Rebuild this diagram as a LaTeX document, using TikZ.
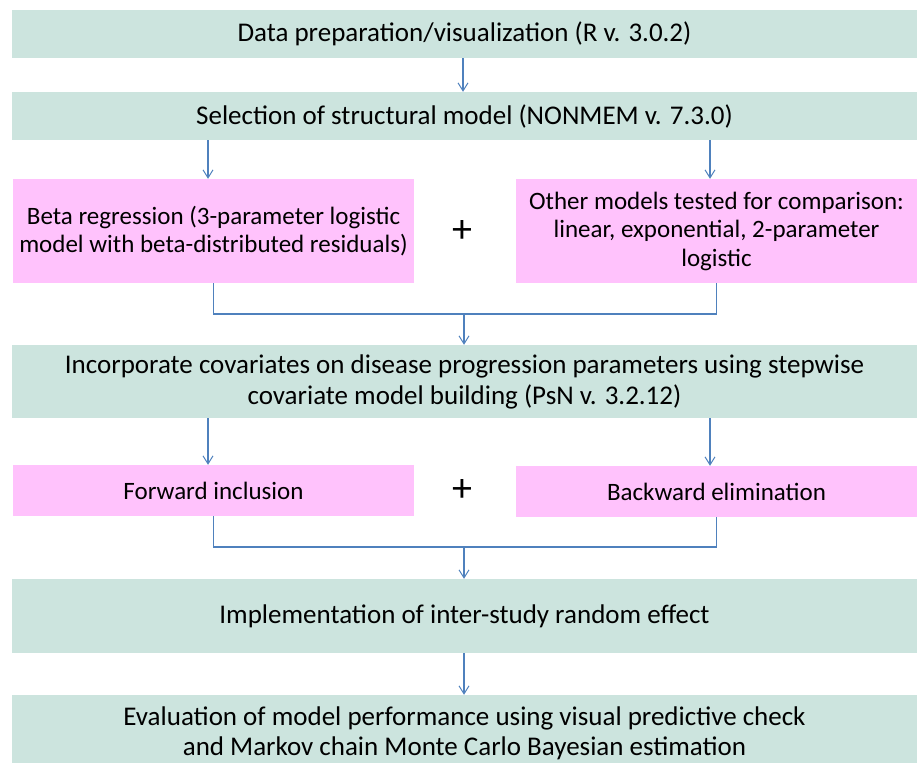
\documentclass[tikz,border=0pt]{standalone}
\usepackage{fontspec}
\setmainfont{Carlito}
\usetikzlibrary{arrows.meta}
\definecolor{teal1}{HTML}{CCE4DE}
\definecolor{pink1}{HTML}{FFC2FC}
\definecolor{arrblue}{HTML}{4F81BD}
\begin{document}
\begin{tikzpicture}[x=1pt,y=-1pt,
  tealbox/.style={rectangle,fill=teal1,draw=none,minimum width=905pt,inner sep=0pt,align=center,font=\fontsize{27}{31}\selectfont},
  pinkbox/.style={rectangle,fill=pink1,draw=none,minimum width=401pt,inner sep=0pt,align=center,font=\fontsize{25}{28.5}\selectfont},
  conn/.style={draw=arrblue,line width=1.1pt},
  arr/.style={conn,-{Straight Barb[length=8pt,width=10pt,line width=1pt]}},
  plus/.style={font=\fontsize{40}{40}\selectfont}]
\useasboundingbox (0,0) rectangle (917,762);
\node[tealbox,minimum height=48pt] (b1) at (464.5,34) {Data preparation/visualization (R v. 3.0.2)};
\node[tealbox,minimum height=48pt] (b2) at (464.5,116) {Selection of structural model (NONMEM v. 7.3.0)};
\node[pinkbox,minimum height=104pt] (pl) at (213.5,231) {Beta regression (3-parameter logistic\\model with beta-distributed residuals)};
\node[pinkbox,minimum height=104pt] (pr) at (716.5,231) {Other models tested for comparison:\\linear, exponential, 2-parameter\\logistic};
\node[plus] (p1) at (462,232) {+};
\node[tealbox,minimum height=73pt] (b3) at (464.5,381.5) {Incorporate covariates on disease progression parameters using stepwise\\covariate model building (PsN v. 3.2.12)};
\node[pinkbox,minimum height=51pt] (fw) at (213.5,490.5) {Forward inclusion};
\node[pinkbox,minimum height=51pt] (bw) at (716.5,491.5) {Backward elimination};
\node[plus] (p2) at (462,490) {+};
\node[tealbox,minimum height=74pt] (b4) at (464.5,616) {Implementation of inter-study random effect};
\node[tealbox,minimum height=76pt,font=\fontsize{27}{30}\selectfont] (b5) at (464.5,733) {Evaluation of model performance using visual predictive check\\and Markov chain Monte Carlo Bayesian estimation};
\coordinate (j1) at (464,314);
\coordinate (j2) at (464,547);
% arrows
\draw[arr] ([xshift=-1.5pt]b1.south) -- ([xshift=-1.5pt]b2.north);
\draw[arr] ([xshift=-5.5pt]pl.north |- b2.south) -- ([xshift=-5.5pt]pl.north);
\draw[arr] ([xshift=-6.5pt]pr.north |- b2.south) -- ([xshift=-6.5pt]pr.north);
\draw[conn] (pl.south) |- (j1) -| (pr.south);
\draw[arr] (j1) -- (b3.north -| j1);
\draw[arr] ([xshift=-5.5pt]fw.north |- b3.south) -- ([xshift=-5.5pt]fw.north);
\draw[arr] ([xshift=-6.5pt]bw.north |- b3.south) -- ([xshift=-6.5pt]bw.north);
\draw[conn] (fw.south) |- (j2) -| (bw.south);
\draw[arr] (j2) -- (b4.north -| j2);
\draw[arr] (b4.south -| j2) -- (b5.north -| j2);
\end{tikzpicture}
\end{document}
